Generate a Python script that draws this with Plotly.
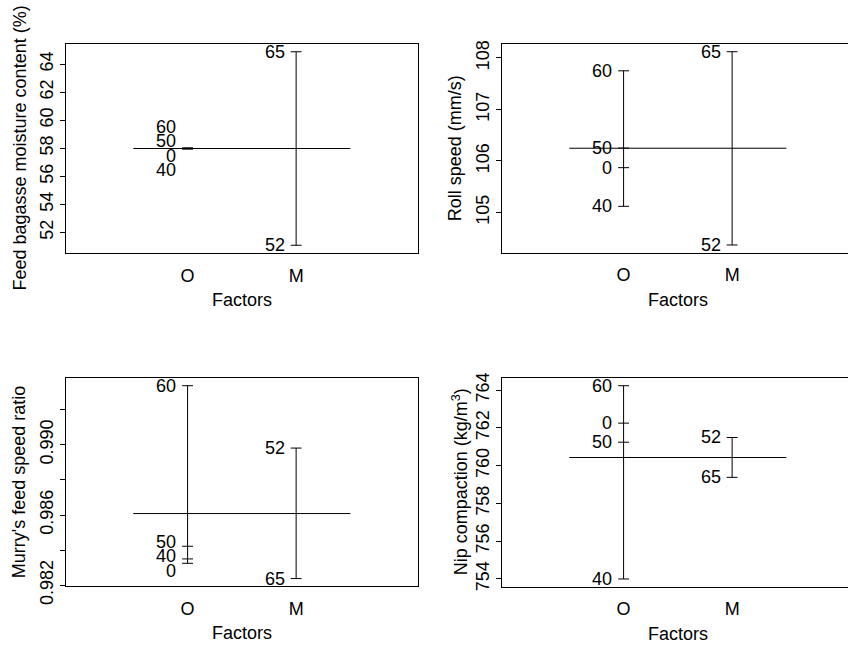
import numpy as np
import plotly.graph_objects as go

# ---- data: mean response at each factor level (O = first factor, M = second) ----
factor_names = ["O", "M"]

moist_O_levels = ["60", "50", "0", "40"]
moist_O_means = [58.03, 58.00, 57.96, 57.95]
moist_M_levels = ["65", "52"]
moist_M_means = [64.88, 51.09]

roll_O_levels = ["60", "50", "0", "40"]
roll_O_means = [107.75, 106.25, 105.87, 105.12]
roll_M_levels = ["65", "52"]
roll_M_means = [108.12, 104.37]

murry_O_levels = ["60", "50", "40", "0"]
murry_O_means = [0.99336, 0.98422, 0.98350, 0.98325]
murry_M_levels = ["52", "65"]
murry_M_means = [0.98981, 0.98238]

nip_O_levels = ["60", "0", "50", "40"]
nip_O_means = [764.23, 762.25, 761.24, 754.00]
nip_M_levels = ["52", "65"]
nip_M_means = [761.49, 759.38]

titles = [
    "Feed bagasse moisture content (%)",
    "Roll speed (mm/s)",
    "Murry's feed speed ratio",
    "Nip compaction (kg/m<sup>3</sup>)",
]

moist_ticks = [52, 54, 56, 58, 60, 62, 64]
moist_ticktext = ["52", "54", "56", "58", "60", "62", "64"]
roll_ticks = [105, 106, 107, 108]
roll_ticktext = ["105", "106", "107", "108"]
murry_ticks = [0.982, 0.986, 0.990]
murry_ticktext = ["0.982", "0.986", "0.990"]
murry_minor_step = 0.002
nip_ticks = [754, 756, 758, 760, 762, 764]
nip_ticktext = ["754", "756", "758", "760", "762", "764"]

# ---- page geometry (pixels) ----
W, H = 848, 645
FONT = "Liberation Sans, Arial, Helvetica, sans-serif"
FS = 18
UNIT_PX = 108.55  # pixels per factor-axis unit

# panel boxes: left, right, top, bottom in pixels
boxes = [
    (66, 417.7, 44, 253),
    (502, 848, 44, 252.7),
    (66, 417.7, 378, 586.3),
    (502, 848, 378, 586.7),
]
full_right = [417.7, 853.7, 417.7, 853.7]
title_x = [19, 455, 19, 460]

panels = [
    (moist_O_levels, moist_O_means, moist_M_levels, moist_M_means, moist_ticks, moist_ticktext, None),
    (roll_O_levels, roll_O_means, roll_M_levels, roll_M_means, roll_ticks, roll_ticktext, None),
    (murry_O_levels, murry_O_means, murry_M_levels, murry_M_means, murry_ticks, murry_ticktext,
     murry_minor_step),
    (nip_O_levels, nip_O_means, nip_M_levels, nip_M_means, nip_ticks, nip_ticktext, None),
]


def spread_labels(values, data_gap):
    """Return label y positions so neighbouring labels are at least data_gap apart."""
    order = np.argsort(values)[::-1]
    vals = [values[i] for i in order]
    clusters = [[v] for v in vals]
    pos = [[v] for v in vals]
    changed = True
    while changed:
        changed = False
        for k in range(len(clusters) - 1):
            if pos[k][-1] - pos[k + 1][0] < data_gap - 1e-12:
                members = clusters[k] + clusters[k + 1]
                centre = np.mean(members)
                n = len(members)
                new_pos = [centre + (n - 1) / 2 * data_gap - j * data_gap for j in range(n)]
                clusters[k] = members
                pos[k] = new_pos
                del clusters[k + 1]
                del pos[k + 1]
                changed = True
                break
    flat = [p for grp in pos for p in grp]
    out = [0.0] * len(values)
    for rank, i in enumerate(order):
        out[i] = flat[rank]
    return out


fig = go.Figure()
annotations = []
layout = {}

for p, (oL, oV, mL, mV, tv, tt, minor_step) in enumerate(panels):
    left, right, top, bottom = boxes[p]
    xa = "x" if p == 0 else f"x{p + 1}"
    ya = "y" if p == 0 else f"y{p + 1}"
    xkey = "xaxis" if p == 0 else f"xaxis{p + 1}"
    ykey = "yaxis" if p == 0 else f"yaxis{p + 1}"

    allv = list(oV) + list(mV)
    lo, hi = min(allv), max(allv)
    pad = 0.04 * (hi - lo)
    yr = [lo - pad, hi + pad]
    px_per_y = (bottom - top) / (yr[1] - yr[0])
    grand = float(np.mean(oV))

    xs, ys = [], []
    # grand-mean line
    xs += [0.5, 2.5, None]
    ys += [grand, grand, None]
    for fi, (labs, vals) in enumerate([(oL, oV), (mL, mV)]):
        xc = fi + 1
        xs += [xc, xc, None]
        ys += [min(vals), max(vals), None]
        for v in vals:
            xs += [xc - 0.05, xc + 0.05, None]
            ys += [v, v, None]
        label_y = spread_labels(list(vals), 14.5 / px_per_y)
        for lab, ly in zip(labs, label_y):
            annotations.append(dict(
                x=xc - 0.085, y=ly, xref=xa, yref=ya, text=lab, showarrow=False,
                xanchor="right", yanchor="middle", font=dict(size=FS, color="black", family=FONT)))

    fig.add_trace(go.Scatter(x=xs, y=ys, mode="lines", xaxis=xa, yaxis=ya,
                             line=dict(color="black", width=1), hoverinfo="skip", showlegend=False))

    xr_right = -0.12 + (right - left) / UNIT_PX
    layout[xkey] = dict(
        domain=[left / W, right / W], range=[-0.12, xr_right], anchor=ya, automargin=False,
        tickvals=[1, 2], ticktext=factor_names, ticks="", showgrid=False, zeroline=False,
        showline=True, linecolor="black", linewidth=1, mirror=True,
        tickfont=dict(size=FS, color="black", family=FONT), ticklabelstandoff=6,
    )
    # the right-hand panels run past the page edge, so their right frame side is not drawn
    ymirror = right < W
    ydict = dict(
        domain=[1 - bottom / H, 1 - top / H], range=yr, anchor=xa, automargin=False,
        tickvals=tv, ticktext=tt,
        ticks="outside", ticklen=5, tickcolor="black", tickwidth=1, tickangle=-90,
        showgrid=False, zeroline=False, showline=True, linecolor="black", linewidth=1,
        mirror=ymirror, tickfont=dict(size=FS, color="black", family=FONT), ticklabelstandoff=0,
    )
    if minor_step:
        ydict["minor"] = dict(tick0=tv[0], dtick=minor_step, ticks="outside", ticklen=5,
                              tickcolor="black", tickwidth=1, showgrid=False)
    layout[ykey] = ydict

    # axis titles
    annotations.append(dict(
        x=(left + full_right[p]) / 2 / W, y=1 - (bottom + 47) / H, xref="paper", yref="paper",
        text="Factors", showarrow=False, xanchor="center", yanchor="middle",
        font=dict(size=FS, color="black", family=FONT)))
    annotations.append(dict(
        x=title_x[p] / W, y=1 - (top + bottom) / 2 / H, xref="paper", yref="paper",
        text=titles[p], showarrow=False, textangle=-90, xanchor="center", yanchor="middle",
        font=dict(size=FS, color="black", family=FONT)))

fig.update_layout(
    template="none",
    width=W, height=H, margin=dict(l=0, r=0, t=0, b=0, pad=0),
    paper_bgcolor="white", plot_bgcolor="white",
    annotations=annotations, **layout,
)

fig.write_html("out.html")
